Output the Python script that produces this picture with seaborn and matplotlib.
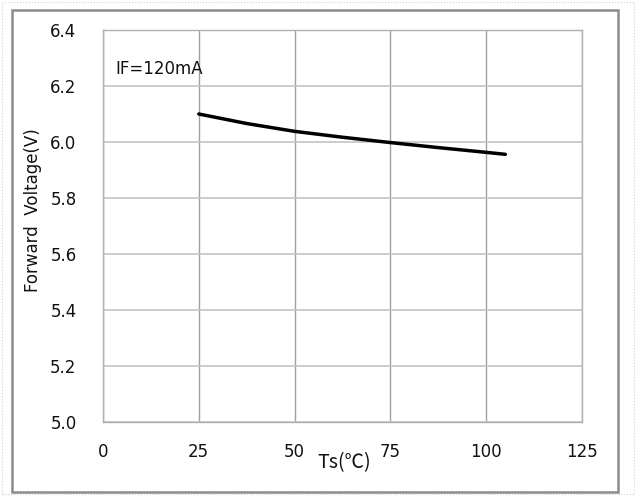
import matplotlib
matplotlib.use("Agg")
import matplotlib.pyplot as plt
import seaborn as sns
import pandas as pd
from matplotlib.patches import Rectangle

# data
ts = [25, 37.5, 50, 62.5, 75, 87.5, 100, 105]
vf = [6.100, 6.066, 6.038, 6.017, 5.998, 5.980, 5.963, 5.956]
x_ticks = [0, 25, 50, 75, 100, 125]
y_ticks = [5.0, 5.2, 5.4, 5.6, 5.8, 6.0, 6.2, 6.4]
note = "IF=120mA"

df = pd.DataFrame({"Ts": ts, "VF": vf})

sns.set_theme(style="white")
plt.rcParams["font.family"] = ["DejaVu Sans", "Noto Sans CJK SC"]

fig = plt.figure(figsize=(6.36, 4.96), dpi=100)
ax = fig.add_axes([103 / 636, 1 - 422 / 496, 479 / 636, 392 / 496])

sns.lineplot(data=df, x="Ts", y="VF", color="black", linewidth=2.5, ax=ax)

ax.set_xlim(0, 125)
ax.set_ylim(5.0, 6.4)
ax.set_xticks(x_ticks)
ax.set_yticks(y_ticks)
ax.set_xticklabels([str(t) for t in x_ticks])
ax.set_yticklabels([f"{t:.1f}" for t in y_ticks])
ax.tick_params(axis="both", length=0, labelsize=12, colors="#111111")
ax.tick_params(axis="x", pad=15)
ax.tick_params(axis="y", pad=19)

# grid: vertical darker, horizontal lighter
for x in x_ticks:
    ax.axvline(x, color="#a0a0a0", linewidth=1, zorder=0)
for y in y_ticks:
    ax.axhline(y, color="#c4c4c4", linewidth=1.2, zorder=0)
for s in ax.spines.values():
    s.set_color("#b0b0b0")
    s.set_linewidth(1)

ax.set_xlabel("Ts(℃)", fontsize=14, color="#111111", family=["Noto Sans CJK SC", "DejaVu Sans"])
ax.set_ylabel("Forward  Voltage(V)", fontsize=12, color="#111111")
ax.xaxis.set_label_coords(0.503, -0.078)
ax.yaxis.set_label_coords(-0.128, 0.54)

ax.text(3.2, 6.26, note, fontsize=12, va="center", ha="left", color="#111111")

# outer frame around the chart
fig.patches.append(Rectangle((12 / 636, 1 - 492 / 496), 606 / 636, 482 / 496,
                             transform=fig.transFigure, fill=False,
                             edgecolor="#8c8c8c", linewidth=1.8))
fig.patches.append(Rectangle((2 / 636, 2 / 496), 632 / 636, 492 / 496,
                             transform=fig.transFigure, fill=False,
                             edgecolor="#d0d0d0", linewidth=0.8, linestyle=":"))

fig.savefig("out.png", dpi=100)
